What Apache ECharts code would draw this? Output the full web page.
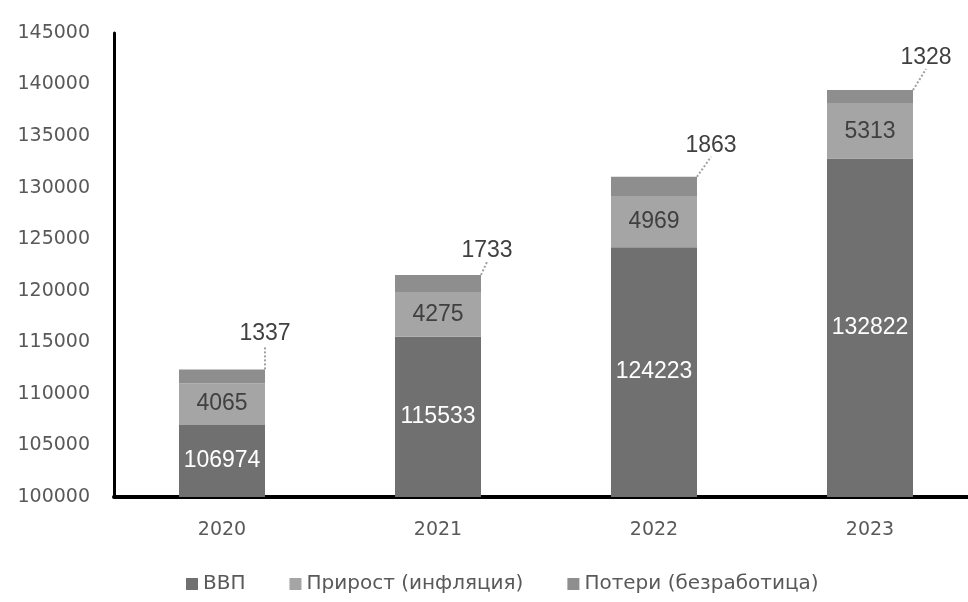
<!DOCTYPE html>
<html>
<head>
<meta charset="utf-8">
<script src="https://cdn.jsdelivr.net/npm/echarts@6/dist/echarts.min.js"></script>
<style>
	html, body { margin: 0; padding: 0; background: #fff; overflow: hidden; }
	/* график в оригинале обрезан справа, поэтому контейнер чуть шире окна */
	#chart { width: 978px; height: 602px; }
</style>
</head>
<body>
<div id="chart"></div>
<script>
	// данные с графика
	var years = ['2020', '2021', '2022', '2023'];
	var gdp = [106974, 115533, 124223, 132822];
	var growth = [4065, 4275, 4969, 5313];
	var losses = [1337, 1733, 1863, 1328];
	var yTicks = [100000, 105000, 110000, 115000, 120000, 125000, 130000, 135000, 140000, 145000];

	// сдвиг подписей "Потери" относительно верха столбца
	var lossOffsets = [[43, -19], [49, -8], [57, -15], [56, -16]];

	var labelFont = 'Liberation Sans';
	var axisFont = 'DejaVu Sans';

	var myChart = echarts.init(document.getElementById('chart'));
	var option = {
		animation: false,
		backgroundColor: '#fff',
		grid: {
			left: 114,
			right: 0,
			top: 33,
			bottom: 105
		},
		legend: {
			bottom: 3,
			left: 181,
			icon: 'rect',
			itemWidth: 12,
			itemHeight: 12,
			itemGap: 44,
			textStyle: { fontFamily: axisFont, fontSize: 20, color: '#595959' },
			data: ['ВВП', 'Прирост (инфляция)', 'Потери (безработица)']
		},
		xAxis: {
			type: 'category',
			data: years,
			axisLine: { lineStyle: { color: '#000', width: 4 } },
			axisTick: { show: false },
			axisLabel: { margin: 24, fontFamily: axisFont, fontSize: 19, color: '#595959' }
		},
		yAxis: {
			type: 'value',
			min: yTicks[0],
			max: yTicks[yTicks.length - 1],
			interval: 5000,
			axisLine: { show: true, lineStyle: { color: '#000', width: 3 } },
			axisTick: { show: false },
			splitLine: { show: false },
			axisLabel: {
				margin: 24,
				fontFamily: axisFont,
				fontSize: 19,
				color: '#595959',
				formatter: function (v) { return String(v); }
			}
		},
		series: [{
			name: 'ВВП',
			type: 'bar',
			stack: 'total',
			barWidth: 86,
			itemStyle: { color: '#707070' },
			label: {
				show: true,
				position: 'inside',
				color: '#fff',
				fontFamily: labelFont,
				fontSize: 23
			},
			data: gdp
		}, {
			name: 'Прирост (инфляция)',
			type: 'bar',
			stack: 'total',
			itemStyle: { color: '#a5a5a5' },
			label: {
				show: true,
				position: 'inside',
				color: '#404040',
				fontFamily: labelFont,
				fontSize: 23
			},
			data: growth
		}, {
			name: 'Потери (безработица)',
			type: 'bar',
			stack: 'total',
			itemStyle: { color: '#8e8e8e' },
			label: {
				show: true,
				position: 'top',
				color: '#404040',
				fontFamily: labelFont,
				fontSize: 23
			},
			labelLine: {
				show: true,
				lineStyle: { color: '#a0a0a0', type: 'dotted', width: 2 }
			},
			labelLayout: function (params) {
				var off = lossOffsets[params.dataIndex];
				return { dx: off[0], dy: off[1] };
			},
			data: losses
		}]
	};
	myChart.setOption(option);
</script>
</body>
</html>
